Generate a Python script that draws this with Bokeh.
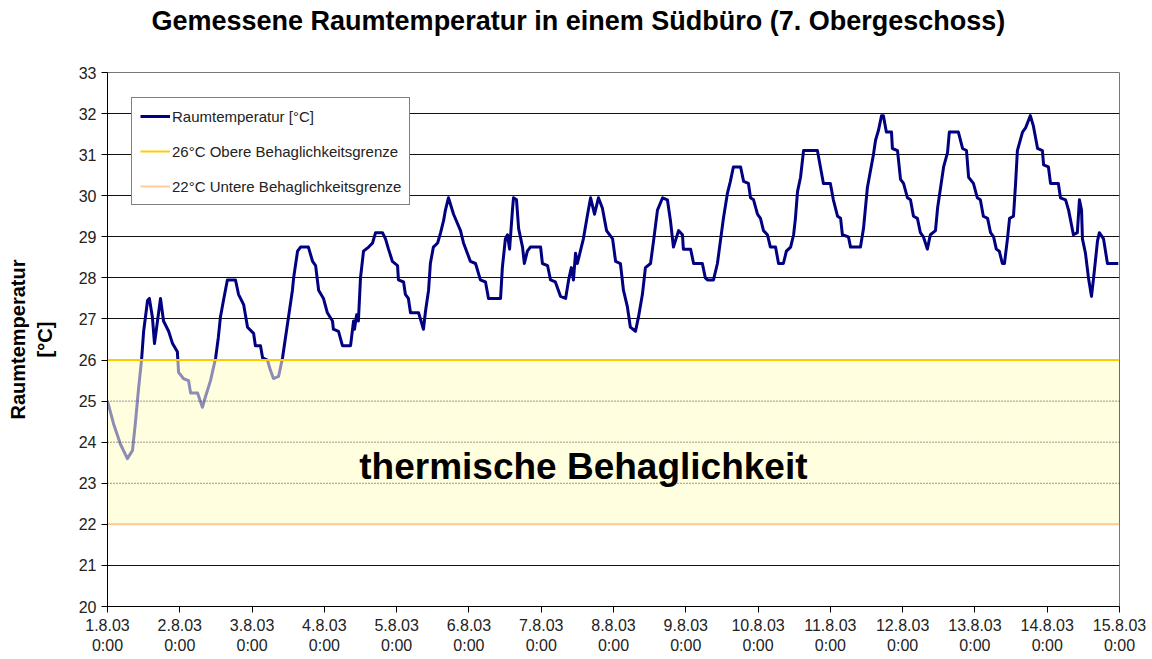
from bokeh.plotting import figure
from bokeh.models import Range1d, FixedTicker, Span, Legend, LegendItem, Label, Title
from bokeh.embed import file_html
from bokeh.resources import INLINE

# ---- data ----
hours = [0, 2.0, 4.3, 6.6, 8.3, 9.3, 10.3, 11.3, 12.0, 13.3, 13.9, 14.9, 15.6, 16.6, 17.6, 18.6,
         20.3, 21.6, 23.2, 23.6, 25.2, 26.9, 27.6, 29.9, 31.5, 32.5, 34.2, 35.9, 36.8, 37.5, 38.5,
         39.8, 42.5, 43.5, 45.2, 46.5, 48.5, 49.1, 50.8, 51.5, 53.1, 54.1, 55.1, 56.8, 58.1, 59.1,
         60.1, 61.4, 61.8, 63.1, 64.1, 66.7, 68.1, 69.1, 70.1, 71.7, 73.0, 74.7, 75.0, 76.7, 78.0,
         80.7, 81.7, 82.0, 82.7, 83.3, 84.0, 85.0, 86.7, 88.0, 89.0, 91.3, 92.3, 93.3, 94.6, 96.3,
         96.6, 98.3, 98.9, 99.9, 100.6, 103.3, 104.9, 105.6, 106.6, 107.2, 108.2, 109.6, 110.6,
         111.6, 112.2, 113.2, 114.9, 117.2, 118.2, 120.5, 122.2, 123.8, 125.5, 126.5, 130.5, 131.1,
         132.1, 132.8, 133.5, 134.5, 134.8, 135.8, 136.5, 137.8, 138.4, 139.4, 140.4, 143.8, 144.4,
         146.1, 147.1, 148.7, 150.4, 152.1, 153.1, 154.0, 154.7, 155.4, 156.0, 157.0, 158.0, 159.4,
         160.4, 161.7, 163.0, 164.3, 165.7, 167.7, 168.7, 170.3, 171.3, 172.6, 173.6, 175.3, 176.3,
         177.6, 178.6, 180.3, 181.3, 182.6, 184.3, 185.9, 186.9, 187.9, 189.6, 190.9, 191.2, 193.6,
         194.6, 197.5, 198.5, 199.2, 201.2, 202.5, 203.5, 204.5, 205.8, 206.8, 207.8, 210.2, 211.2,
         212.8, 213.5, 214.5, 215.8, 216.8, 217.8, 219.1, 220.1, 221.8, 222.8, 224.4, 225.4, 226.8,
         227.8, 228.4, 229.1, 230.1, 231.1, 235.7, 236.7, 237.7, 240.0, 241.0, 242.4, 243.4, 244.0,
         246.0, 246.7, 250.0, 251.0, 252.3, 253.3, 254.3, 255.0, 256.0, 257.0, 257.6, 258.6, 260.3,
         260.6, 262.3, 263.3, 264.3, 265.6, 266.6, 267.6, 268.9, 269.9, 270.9, 272.2, 273.2, 274.9,
         275.6, 276.6, 277.6, 278.9, 279.5, 282.5, 283.9, 285.2, 285.9, 287.5, 288.8, 289.8, 290.8,
         292.2, 293.2, 294.2, 295.1, 296.1, 297.1, 297.8, 298.8, 299.5, 300.8, 301.5, 302.1, 303.8,
         304.8, 306.4, 307.4, 308.8, 310.4, 310.8, 312.4, 313.1, 315.7, 316.4, 318.1, 319.1, 320.7,
         322.0, 322.7, 323.4, 323.7, 324.7, 325.7, 326.7, 327.4, 328.7, 329.3, 330.7, 332.0, 335.6]

temps = [25.0, 24.45, 23.95, 23.6, 23.8, 24.5, 25.3, 26.0, 26.7, 27.45, 27.5, 27.05, 26.4, 26.95, 27.5, 26.95,
         26.7, 26.4, 26.2, 25.7, 25.55, 25.5, 25.2, 25.2, 24.85, 25.1, 25.5, 26.05, 26.55, 27.05, 27.45,
         27.95, 27.95, 27.6, 27.35, 26.8, 26.65, 26.35, 26.35, 26.05, 26.0, 25.75, 25.55, 25.6, 26.05, 26.55,
         27.05, 27.7, 28.0, 28.65, 28.75, 28.75, 28.4, 28.3, 27.7, 27.5, 27.15, 26.95, 26.75, 26.7, 26.35,
         26.35, 26.95, 26.75, 27.1, 26.95, 28.0, 28.65, 28.75, 28.85, 29.1, 29.1, 28.95, 28.7, 28.4, 28.3,
         27.95, 27.9, 27.6, 27.5, 27.15, 27.15, 26.75, 27.2, 27.7, 28.35, 28.75, 28.85, 29.1,
         29.4, 29.65, 29.95, 29.55, 29.15, 28.85, 28.4, 28.35, 27.95, 27.9, 27.5, 27.5, 28.25,
         28.95, 29.05, 28.7, 29.7, 29.95, 29.9, 29.2, 28.75, 28.35, 28.65, 28.75, 28.75, 28.35,
         28.3, 27.95, 27.9, 27.55, 27.5, 27.95, 28.25, 27.95, 28.6, 28.35, 28.65, 28.95, 29.55,
         29.95, 29.55, 29.95, 29.7, 29.15, 28.95, 28.4, 28.35, 27.7, 27.3, 26.8, 26.7, 27.05,
         27.6, 28.25, 28.35, 28.9, 29.65, 29.95, 29.9, 29.4, 28.75, 29.15, 29.05, 28.7, 28.7,
         28.35, 28.35, 28.0, 27.95, 27.95, 28.35, 28.9, 29.45, 30.05, 30.35, 30.7, 30.7, 30.35,
         30.3, 29.95, 29.9, 29.55, 29.45, 29.15, 29.05, 28.75, 28.75, 28.35, 28.35, 28.65, 28.75,
         29.05, 29.45, 30.1, 30.45, 31.1, 31.1, 30.7, 30.3, 30.3, 29.9, 29.5, 29.45, 29.05,
         29.0, 28.75, 28.75, 29.2, 30.2, 30.6, 31.0, 31.35, 31.6, 31.95, 31.95, 31.55, 31.55,
         31.15, 31.1, 30.4, 30.3, 29.95, 29.9, 29.5, 29.45, 29.1, 29.0, 28.7, 29.05, 29.15,
         29.7, 30.2, 30.7, 31.05, 31.55, 31.55, 31.15, 31.1, 30.45, 30.3, 29.95, 29.9, 29.5,
         29.45, 29.1, 29.0, 28.7, 28.65, 28.35, 28.35, 28.95, 29.45, 29.5, 30.3, 31.1, 31.55,
         31.65, 31.95, 31.7, 31.15, 31.1, 30.75, 30.7, 30.3, 30.3, 29.95, 29.9, 29.65, 29.05,
         29.1, 29.9, 29.65, 28.95, 28.6, 28.0, 27.55, 28.0, 28.9, 29.1, 28.95, 28.35, 28.35]

date_labels = ["1.8.03", "2.8.03", "3.8.03", "4.8.03", "5.8.03", "6.8.03", "7.8.03", "8.8.03",
               "9.8.03", "10.8.03", "11.8.03", "12.8.03", "13.8.03", "14.8.03", "15.8.03"]
time_label = "0:00"
upper_limit = 26
lower_limit = 22
y_min, y_max = 20, 33
comfort_text = "thermische Behaglichkeit"
title_text = "Gemessene Raumtemperatur in einem Südbüro (7. Obergeschoss)"

tick_hours = [i * 24 for i in range(len(date_labels))]
x_end = tick_hours[-1]

FONT = "Liberation Sans"

p = figure(width=1152, height=659, output_backend="svg", toolbar_location=None,
           x_range=Range1d(0, x_end), y_range=Range1d(y_min, y_max),
           min_border_left=107, min_border_right=33, min_border_top=0, min_border_bottom=53,
           title=title_text)

p.title.text_font = FONT
p.title.text_font_size = "27px"
p.title.text_font_style = "bold"
p.title.text_color = "#000000"
p.title.align = "left"
p.title.offset = 44
p.title.vertical_align = "bottom"
p.title.standoff = 6

# invisible spacer between title and plot frame
p.add_layout(Title(text=" ", text_font_size="1px", standoff=31), "above")

p.outline_line_color = "#777777"
p.background_fill_color = "white"
p.border_fill_color = "white"

# axes
p.xaxis.ticker = FixedTicker(ticks=tick_hours)
p.xaxis.major_label_overrides = {t: f"{d}\n{time_label}" for t, d in zip(tick_hours, date_labels)}
p.xaxis.major_label_text_font = FONT
p.xaxis.major_label_text_font_size = "16px"
p.xaxis.major_label_text_color = "#222222"
p.xaxis.major_label_standoff = 4
p.xaxis.major_tick_out = 6
p.xaxis.major_tick_in = 0
p.xaxis.minor_tick_line_color = None
p.xaxis.axis_line_color = "#000000"
p.xaxis.major_tick_line_color = "#000000"

p.yaxis.ticker = FixedTicker(ticks=list(range(y_min, y_max + 1)))
p.yaxis.major_label_text_font = FONT
p.yaxis.major_label_text_font_size = "16px"
p.yaxis.major_label_text_color = "#222222"
p.yaxis.major_label_standoff = 5
p.yaxis.major_tick_out = 6
p.yaxis.major_tick_in = 0
p.yaxis.minor_tick_line_color = None
p.yaxis.axis_line_color = "#000000"
p.yaxis.major_tick_line_color = "#000000"
p.yaxis.axis_label = "Raumtemperatur\n[°C]"
p.yaxis.axis_label_text_font = FONT
p.yaxis.axis_label_text_font_size = "20px"
p.yaxis.axis_label_text_font_style = "bold"
p.yaxis.axis_label_text_color = "#000000"
p.yaxis.axis_label_standoff = 20

p.xgrid.grid_line_color = None
p.ygrid.grid_line_color = "#111111"
p.ygrid.grid_line_width = 1

# opaque comfort box (hides grid lines beneath)
p.quad(left=[0], right=[x_end], bottom=[lower_limit], top=[upper_limit],
       fill_color="#FFFFE0", fill_alpha=1.0, line_color=None)

# temperature line
temp_r = p.line(hours, temps, line_color="#000080", line_width=3, line_join="round")

# translucent overlay to fade the line inside the comfort range
p.quad(left=[0], right=[x_end], bottom=[lower_limit], top=[upper_limit],
       fill_color="#FFFFE0", fill_alpha=0.55, line_color="#333333", line_width=1)

# dotted grid lines inside the box
for yv in range(lower_limit + 1, upper_limit):
    p.add_layout(Span(location=yv, dimension="width", line_color="#333333",
                      line_dash="1 2", line_width=1))

upper_r = p.line([0, x_end], [upper_limit, upper_limit], line_color="#FFCC00", line_width=2)
lower_r = p.line([0, x_end], [lower_limit, lower_limit], line_color="#FFCC99", line_width=2)

p.add_layout(Label(x=158, y=23.4, text=comfort_text, text_font=FONT, text_font_size="37px",
                   text_font_style="bold", text_color="#000000",
                   text_align="center", text_baseline="middle"))

legend = Legend(items=[
    LegendItem(label="Raumtemperatur [°C]", renderers=[temp_r]),
    LegendItem(label="26°C Obere Behaglichkeitsgrenze", renderers=[upper_r]),
    LegendItem(label="22°C Untere Behaglichkeitsgrenze", renderers=[lower_r]),
], location=(24, 401))
legend.label_text_font = FONT
legend.label_text_font_size = "15px"
legend.label_text_color = "#222222"
legend.label_height = 20
legend.glyph_height = 20
legend.glyph_width = 30
legend.label_standoff = 2
legend.spacing = 15
legend.padding = 8
legend.margin = 0
legend.border_line_color = "#000000"
legend.border_line_width = 1
legend.background_fill_color = "white"
legend.background_fill_alpha = 1.0
p.add_layout(legend, "center")

open("out.html", "w").write(file_html(p, INLINE))
